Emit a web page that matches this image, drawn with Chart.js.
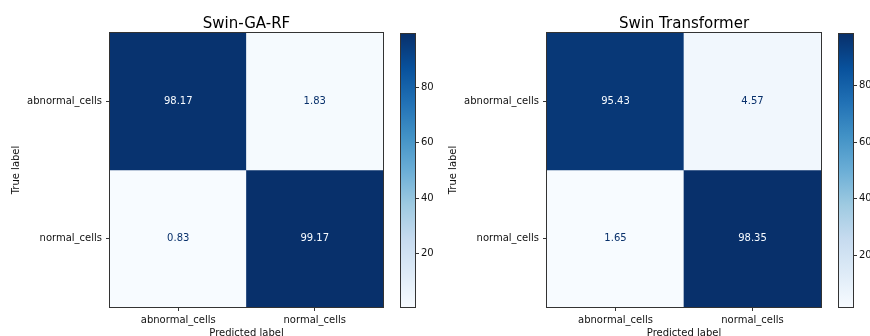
<!DOCTYPE html>
<html>
<head>
<meta charset="utf-8">
<script src="https://cdn.jsdelivr.net/npm/chart.js@4.4.1/dist/chart.umd.min.js"></script>
<style>
  html, body { margin: 0; padding: 0; background: #fff; }
  body { width: 870px; height: 336px; overflow: hidden; position: relative; }
  canvas { position: absolute; top: 0; }
</style>
</head>
<body>
<canvas id="cmLeft" width="390" height="345" style="left:0px;width:390px;height:345px"></canvas>
<canvas id="cmRight" width="391" height="345" style="left:437px;width:391px;height:345px"></canvas>
<canvas id="cbLeft" width="50" height="336" style="left:395px;width:50px;height:336px"></canvas>
<canvas id="cbRight" width="50" height="336" style="left:833px;width:50px;height:336px"></canvas>
<script>
(function () {
  'use strict';

  const predictedLabels = ['abnormal_cells', 'normal_cells'];
  const trueLabels = ['abnormal_cells', 'normal_cells'];
  const gaRfValues = [[98.17, 1.83], [0.83, 99.17]];
  const swinValues = [[95.43, 4.57], [1.65, 98.35]];
  const colorbarTicks = [20, 40, 60, 80];
  // matplotlib "Blues"
  const bluesStops = ['#f7fbff', '#deebf7', '#c6dbef', '#9ecae1', '#6baed6', '#4292c6', '#2171b5', '#08519c', '#08306b'];

  const FONT = 'DejaVu Sans';
  const TEXT = '#111';
  const LINE = '#333';

  Chart.defaults.font.family = FONT;
  Chart.defaults.font.size = 10;
  Chart.defaults.color = TEXT;

  function hexToRgb(h) {
    return [parseInt(h.slice(1, 3), 16), parseInt(h.slice(3, 5), 16), parseInt(h.slice(5, 7), 16)];
  }

  function blues(t) {
    t = Math.min(1, Math.max(0, t));
    const pos = t * (bluesStops.length - 1);
    const i = Math.min(Math.floor(pos), bluesStops.length - 2);
    const f = pos - i;
    const a = hexToRgb(bluesStops[i]);
    const b = hexToRgb(bluesStops[i + 1]);
    const c = a.map(function (v, k) { return Math.round(v + (b[k] - v) * f); });
    return 'rgb(' + c.join(',') + ')';
  }

  function range(values) {
    const flat = values.flat();
    return { min: Math.min.apply(null, flat), max: Math.max.apply(null, flat) };
  }

  // axes frame (matplotlib spines)
  const framePlugin = {
    id: 'frame',
    afterDraw(chart) {
      const a = chart.chartArea;
      const c = chart.ctx;
      c.save();
      c.strokeStyle = LINE;
      c.lineWidth = 1;
      c.strokeRect(Math.round(a.left) - 0.5, Math.round(a.top) - 0.5, Math.round(a.right - a.left) + 1, Math.round(a.bottom - a.top) + 1);
      c.restore();
    }
  };

  // value text in every cell
  const cellTextPlugin = {
    id: 'cellText',
    afterDatasetsDraw(chart, args, opts) {
      if (!opts || !opts.values) return;
      const c = chart.ctx;
      const thresh = (opts.min + opts.max) / 2;
      c.save();
      c.font = '10px "' + FONT + '"';
      c.textAlign = 'center';
      c.textBaseline = 'middle';
      chart.data.datasets.forEach(function (ds, i) {
        chart.getDatasetMeta(i).data.forEach(function (bar, j) {
          const v = opts.values[i][j];
          c.fillStyle = v < thresh ? bluesStops[bluesStops.length - 1] : bluesStops[0];
          c.fillText(v.toFixed(2), bar.x, (bar.y + bar.base) / 2);
        });
      });
      c.restore();
    }
  };

  function makeMatrix(id, title, values) {
    const r = range(values);
    const datasets = trueLabels.map(function (lbl, i) {
      return {
        label: lbl,
        data: predictedLabels.map(function () { return [i, i + 1]; }),
        backgroundColor: values[i].map(function (v) { return blues((v - r.min) / (r.max - r.min)); }),
        borderWidth: 0,
        grouped: false,
        barPercentage: 1,
        categoryPercentage: 1
      };
    });

    return new Chart(document.getElementById(id), {
      type: 'bar',
      data: { labels: predictedLabels, datasets: datasets },
      plugins: [framePlugin, cellTextPlugin],
      options: {
        responsive: false,
        animation: false,
        devicePixelRatio: 1,
        events: [],
        layout: { padding: { left: 0, right: 7, top: 0, bottom: 0 } },
        plugins: {
          legend: { display: false },
          tooltip: { enabled: false },
          title: {
            display: true,
            fullSize: false, // centre over the matrix, like an axes title
            text: title,
            color: '#000',
            font: { family: FONT, size: 15, weight: 'normal' },
            padding: { top: 15, bottom: 0 }
          },
          cellText: { values: values, min: r.min, max: r.max }
        },
        scales: {
          x: {
            type: 'category',
            position: 'bottom',
            offset: true,
            border: { display: false },
            grid: { drawOnChartArea: false, drawTicks: true, tickLength: 4, tickColor: LINE, tickWidth: 1, offset: false },
            ticks: { color: TEXT, font: { size: 10 }, padding: 3, maxRotation: 0, autoSkip: false },
            title: { display: true, text: 'Predicted label', color: TEXT, font: { size: 10 }, padding: { top: 0, bottom: 6 } },
            afterFit: function (s) { s.height = 38; }
          },
          y: {
            type: 'linear',
            min: 0,
            max: trueLabels.length,
            reverse: true,
            border: { display: false },
            grid: { drawOnChartArea: false, drawTicks: true, tickLength: 4, tickColor: LINE, tickWidth: 1 },
            afterBuildTicks: function (s) {
              s.ticks = trueLabels.map(function (_, i) { return { value: i + 0.5 }; });
            },
            ticks: {
              color: TEXT,
              font: { size: 10 },
              padding: 4,
              callback: function (v) { return trueLabels[Math.floor(v)]; }
            },
            title: { display: true, text: 'True label', color: TEXT, font: { size: 10 }, padding: { top: 10, bottom: 0 } },
            afterFit: function (s) { s.width = 110; }
          }
        }
      }
    });
  }

  function makeColorbar(id, values) {
    const r = range(values);
    return new Chart(document.getElementById(id), {
      type: 'bar',
      data: {
        labels: [''],
        datasets: [{
          data: [[r.min, r.max]],
          borderWidth: 0,
          barPercentage: 1,
          categoryPercentage: 1,
          backgroundColor: function (ctx) {
            const chart = ctx.chart;
            if (!chart.chartArea || !chart.scales.y) return bluesStops[4];
            const y = chart.scales.y;
            const g = chart.ctx.createLinearGradient(0, y.getPixelForValue(r.min), 0, y.getPixelForValue(r.max));
            bluesStops.forEach(function (c, i) { g.addColorStop(i / (bluesStops.length - 1), c); });
            return g;
          }
        }]
      },
      plugins: [framePlugin],
      options: {
        responsive: false,
        animation: false,
        devicePixelRatio: 1,
        events: [],
        layout: { padding: { left: 6, right: 0, top: 34, bottom: 29 } },
        plugins: { legend: { display: false }, tooltip: { enabled: false } },
        scales: {
          x: { type: 'category', display: false },
          y: {
            type: 'linear',
            position: 'right',
            min: r.min,
            max: r.max,
            border: { display: false },
            grid: { drawOnChartArea: false, drawTicks: true, tickLength: 4, tickColor: LINE, tickWidth: 1 },
            afterBuildTicks: function (s) {
              s.ticks = colorbarTicks.map(function (v) { return { value: v }; });
            },
            ticks: { color: TEXT, font: { size: 10 }, padding: 2 },
            afterFit: function (s) { s.width = 30; }
          }
        }
      }
    });
  }

  makeMatrix('cmLeft', 'Swin-GA-RF', gaRfValues);
  makeMatrix('cmRight', 'Swin Transformer', swinValues);
  makeColorbar('cbLeft', gaRfValues);
  makeColorbar('cbRight', swinValues);
})();
</script>
</body>
</html>
